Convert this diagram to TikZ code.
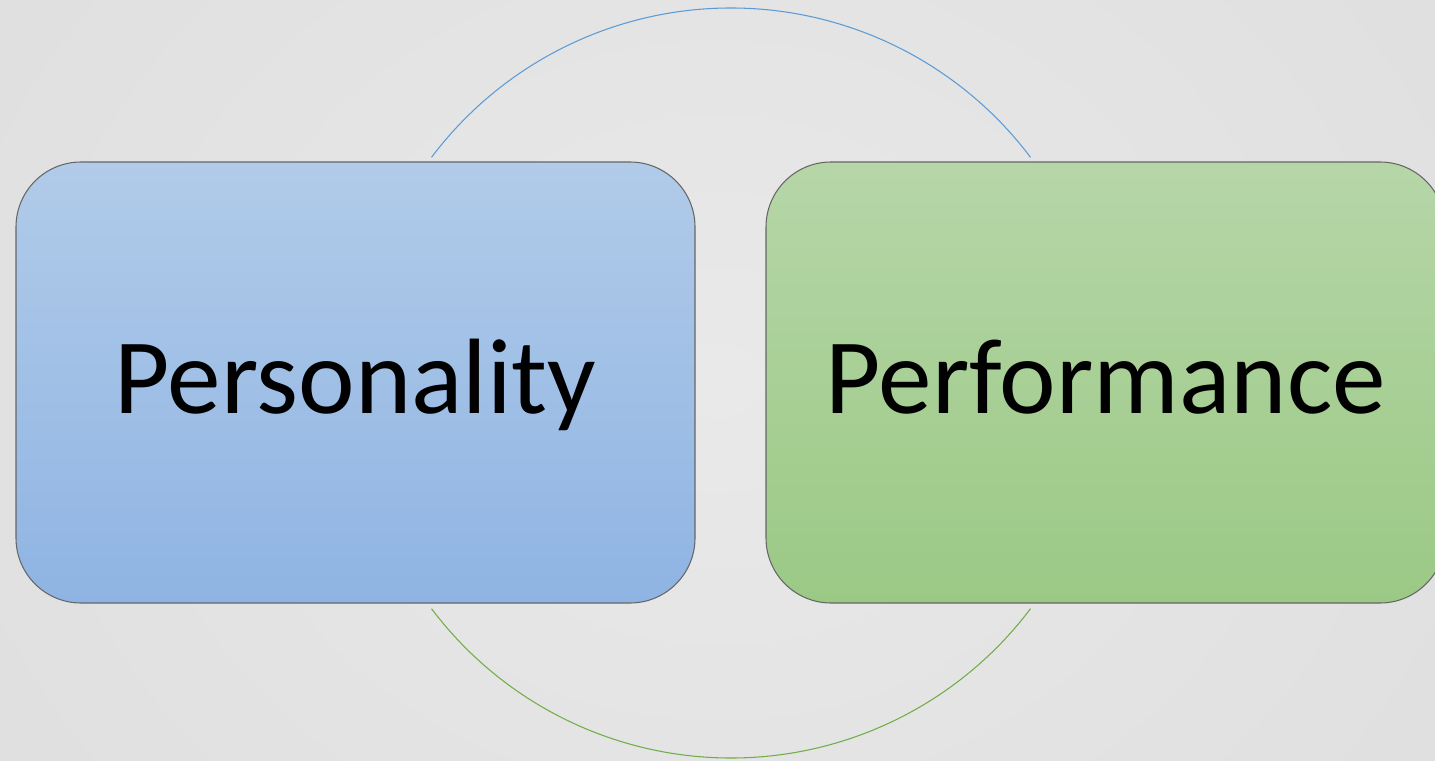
\documentclass[tikz,border=0pt]{standalone}
\usepackage{fontspec}
\setmainfont{Carlito}
\begin{document}
\begin{tikzpicture}[x=0.02cm,y=-0.02cm,
  boxframe/.style={draw=black!60,line width=0.6pt,rounded corners=37pt},
  label/.style={font=\fontsize{61}{72}\selectfont,text=black,anchor=base},
  arcline/.style={line width=0.6pt}]
\definecolor{bgin}{RGB}{233,233,233}
\definecolor{bgout}{RGB}{224,224,224}
\useasboundingbox (0,0) rectangle (1435,760);
\clip (0,0) rectangle (1435,760);
\shade[inner color=bgin,outer color=bgout] (-100,-300) rectangle (1535,1060);
\coordinate (c) at (731,383);
\draw[arcline,draw={rgb,255:red,91;green,155;blue,213}] (c) ++(-143:375) coordinate (tstart) arc[start angle=-143,end angle=-37,radius=375];
\draw[arcline,draw={rgb,255:red,112;green,173;blue,71}] (c) ++(143:375) coordinate (bstart) arc[start angle=143,end angle=37,radius=375];
\definecolor{bluetop}{RGB}{177,203,233}
\definecolor{bluebot}{RGB}{143,180,227}
\definecolor{greentop}{RGB}{182,214,168}
\definecolor{greenbot}{RGB}{155,201,133}
\shade[top color=bluetop,bottom color=bluebot,rounded corners=37pt] (16,162) rectangle (695,603);
\draw[boxframe] (16,162) rectangle (695,603);
\node[label] (pers) at (355.5,413) {Personality};
\shade[top color=greentop,bottom color=greenbot,rounded corners=37pt] (766,162) rectangle (1445,603);
\draw[boxframe] (766,162) rectangle (1445,603);
\node[label] (perf) at (1105.5,413) {Performance};
\end{tikzpicture}
\end{document}
